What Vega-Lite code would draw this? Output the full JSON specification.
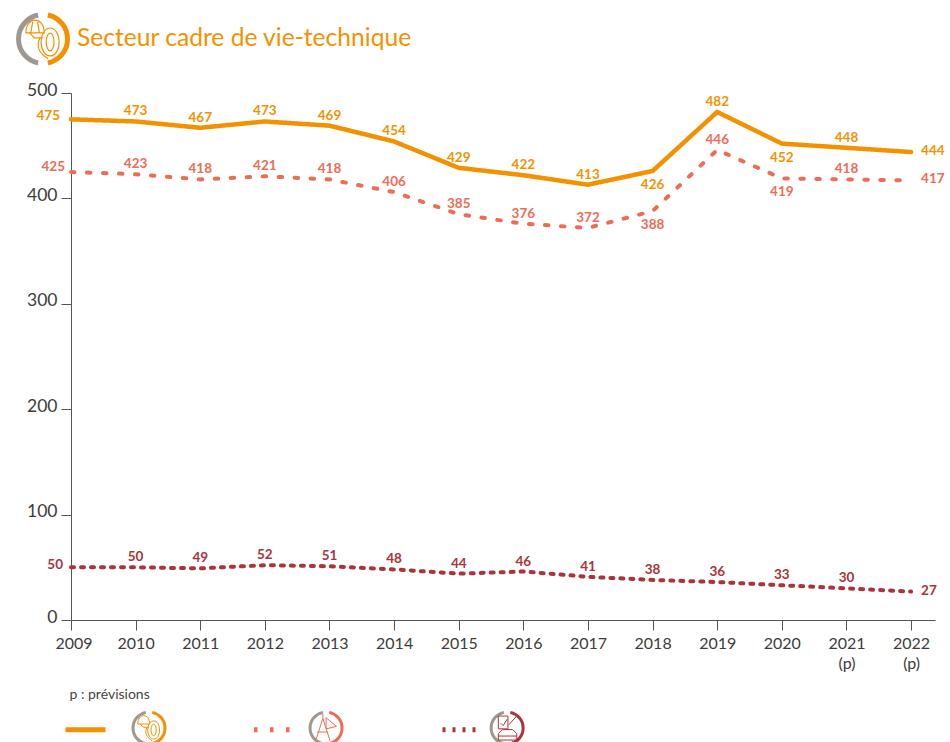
{
"$schema":"https://vega.github.io/schema/vega-lite/v6.json",
"autosize":"none",
"width":864,"height":527,
"padding":{"left":71,"top":93,"right":15,"bottom":122},
"background":"white",
"title":{"text":"Secteur cadre de vie-technique","anchor":"start","font":"Lato","fontSize":24.6,"fontWeight":400,"color":"#F39200","dx":6,"offset":-47,"frame":"group"},
"config":{"view":{"stroke":null},"axis":{"grid":false}},
"datasets":{"d":[
{"year":2009,"series":"chantier","value":475},{"year":2010,"series":"chantier","value":473},{"year":2011,"series":"chantier","value":467},{"year":2012,"series":"chantier","value":473},{"year":2013,"series":"chantier","value":469},{"year":2014,"series":"chantier","value":454},{"year":2015,"series":"chantier","value":429},{"year":2016,"series":"chantier","value":422},{"year":2017,"series":"chantier","value":413},{"year":2018,"series":"chantier","value":426},{"year":2019,"series":"chantier","value":482},{"year":2020,"series":"chantier","value":452},{"year":2021,"series":"chantier","value":448},{"year":2022,"series":"chantier","value":444},
{"year":2009,"series":"études","value":425},{"year":2010,"series":"études","value":423},{"year":2011,"series":"études","value":418},{"year":2012,"series":"études","value":421},{"year":2013,"series":"études","value":418},{"year":2014,"series":"études","value":406},{"year":2015,"series":"études","value":385},{"year":2016,"series":"études","value":376},{"year":2017,"series":"études","value":372},{"year":2018,"series":"études","value":388},{"year":2019,"series":"études","value":446},{"year":2020,"series":"études","value":419},{"year":2021,"series":"études","value":418},{"year":2022,"series":"études","value":417},
{"year":2009,"series":"véhicules","value":50},{"year":2010,"series":"véhicules","value":50},{"year":2011,"series":"véhicules","value":49},{"year":2012,"series":"véhicules","value":52},{"year":2013,"series":"véhicules","value":51},{"year":2014,"series":"véhicules","value":48},{"year":2015,"series":"véhicules","value":44},{"year":2016,"series":"véhicules","value":46},{"year":2017,"series":"véhicules","value":41},{"year":2018,"series":"véhicules","value":38},{"year":2019,"series":"véhicules","value":36},{"year":2020,"series":"véhicules","value":33},{"year":2021,"series":"véhicules","value":30},{"year":2022,"series":"véhicules","value":27}
],
"icons":[{"icon":"titre","ix":2008.567,"iy":551.2},{"icon":"chantier","ix":2010.207,"iy":-102.5},{"icon":"études","ix":2012.947,"iy":-102.5},{"icon":"véhicules","ix":2015.749,"iy":-102.5}]},
"data":{"name":"d"},
"encoding":{
"x":{"field":"year","type":"quantitative","scale":{"domain":[2009,2022.37],"nice":false,"zero":false},
 "axis":{"values":[2009,2010,2011,2012,2013,2014,2015,2016,2017,2018,2019,2020,2021,2022],"format":"d","labelExpr":"datum.value>=2021?[datum.label,'(p)']:datum.label","title":"p : prévisions","titleFont":"Lato","titleFontSize":14,"titleFontWeight":400,"titleColor":"#444444","titleAnchor":"start","titleAlign":"left","titleBaseline":"middle","titleX":-2,"titleY":74,"labelFont":"Lato","labelFontSize":16,"labelFontWeight":400,"labelColor":"#3c3c3c","labelPadding":5,"labelLineHeight":20,"labelFlush":true,"labelFlushOffset":16,"tickSize":10,"tickColor":"#555555","domainColor":"#555555","labelOverlap":false}},
"y":{"field":"value","type":"quantitative","scale":{"domain":[0,500],"nice":false},
 "axis":{"values":[0,100,200,300,400,500],"title":null,"labelFont":"Lato","labelFontSize":17.5,"labelFontWeight":400,"labelColor":"#3c3c3c","labelPadding":4,"labelOffset":-3,"tickSize":10,"tickColor":"#555555","domainColor":"#555555"}},
"color":{"field":"series","type":"nominal","scale":{"domain":["chantier","études","véhicules"],"range":["#F39200","#EE6C55","#A93439"]},"legend":null}
},
"layer":[
{"mark":{"type":"line","strokeCap":"round","strokeJoin":"miter"},
 "encoding":{
 "color":{"field":"series","type":"nominal","scale":{"domain":["chantier","études","véhicules"],"range":["#F39200","#EE6C55","#A93439"]},
 "legend":{"orient":"none","legendX":-8,"legendY":614,"direction":"horizontal","columns":3,"title":null,"symbolType":"stroke","symbolSize":1600,"symbolStrokeWidth":5,"labelExpr":"''","columnPadding":127.5,"padding":0}},
 "strokeDash":{"field":"series","type":"nominal","scale":{"domain":["chantier","études","véhicules"],"range":[[1,0],[3.5,12.5],[3,7]]},
 "legend":{"orient":"none","legendX":-8,"legendY":614,"direction":"horizontal","columns":3,"title":null,"symbolType":"stroke","symbolSize":1600,"symbolStrokeWidth":5,"labelExpr":"''","columnPadding":127.5,"padding":0}},
 "strokeWidth":{"condition":{"test":"datum.series==='chantier'","value":4.5},"value":4}
 }},
{"transform":[{"filter":"datum.year>2009&&datum.year<2022&&!((datum.year==2018||datum.year==2020)&&datum.series!=='véhicules')"}],
 "mark":{"type":"text","font":"Lato","fontSize":13.5,"fontWeight":700,"dy":-10},"encoding":{"text":{"field":"value","type":"quantitative"}}},
{"transform":[{"filter":"(datum.year==2018||datum.year==2020)&&datum.series!=='véhicules'"}],
 "mark":{"type":"text","font":"Lato","fontSize":13.5,"fontWeight":700,"dy":14},"encoding":{"text":{"field":"value","type":"quantitative"}}},
{"transform":[{"filter":"datum.year==2009&&datum.series==='chantier'"}],
 "mark":{"type":"text","font":"Lato","fontSize":13.5,"fontWeight":700,"align":"right","dx":-11,"dy":-3},"encoding":{"text":{"field":"value","type":"quantitative"}}},
{"transform":[{"filter":"datum.year==2009&&datum.series==='études'"}],
 "mark":{"type":"text","font":"Lato","fontSize":13.5,"fontWeight":700,"align":"right","dx":-6,"dy":-5},"encoding":{"text":{"field":"value","type":"quantitative"}}},
{"transform":[{"filter":"datum.year==2009&&datum.series==='véhicules'"}],
 "mark":{"type":"text","font":"Lato","fontSize":13.5,"fontWeight":700,"align":"right","dx":-8,"dy":-2},"encoding":{"text":{"field":"value","type":"quantitative"}}},
{"transform":[{"filter":"datum.year==2022"}],
 "mark":{"type":"text","font":"Lato","fontSize":13.5,"fontWeight":700,"align":"left","dx":10,"dy":-1},"encoding":{"text":{"field":"value","type":"quantitative"}}},

{"data":{"name":"icons"},"transform":[{"filter":"datum.icon==='titre'"}],"mark":{"type":"point","filled":false,"strokeWidth":5,"opacity":1,"size":2400,"shape":"M-0.2,-0.98C-0.65,-0.88,-1,-0.5,-1,0C-1,0.5,-0.65,0.88,-0.2,0.98"},"encoding":{"color":{"value":"#A09890"},"x":{"field":"ix","type":"quantitative"},"y":{"field":"iy","type":"quantitative"}}},
{"data":{"name":"icons"},"transform":[{"filter":"datum.icon==='titre'"}],"mark":{"type":"point","filled":false,"strokeWidth":5,"opacity":1,"size":2400,"shape":"M0.2,-0.98C0.65,-0.88,1,-0.5,1,0C1,0.5,0.65,0.88,0.2,0.98"},"encoding":{"color":{"value":"#F39200"},"x":{"field":"ix","type":"quantitative"},"y":{"field":"iy","type":"quantitative"}}},
{"data":{"name":"icons"},"transform":[{"filter":"datum.icon==='titre'"}],"mark":{"type":"point","filled":false,"strokeWidth":1.2,"opacity":1,"size":2400,"shape":"M0.29,-0.45C0.5,-0.45,0.66,-0.2,0.66,0.12C0.66,0.44,0.5,0.69,0.29,0.69C0.08,0.69,-0.08,0.44,-0.08,0.12C-0.08,-0.2,0.08,-0.45,0.29,-0.45ZM0.29,-0.24C0.38,-0.24,0.45,-0.08,0.45,0.12C0.45,0.32,0.38,0.48,0.29,0.48C0.2,0.48,0.13,0.32,0.13,0.12C0.13,-0.08,0.2,-0.24,0.29,-0.24ZM-0.7,-0.25C-0.7,-0.95,0.05,-0.95,0.05,-0.25ZM-0.5,-0.25L-0.42,-0.7M-0.15,-0.25L-0.22,-0.7M-0.55,-0.25L-0.35,-0.05L0,-0.05M-0.12,-0.05C-0.3,0.3,-0.15,0.6,0.2,0.8"},"encoding":{"color":{"value":"#F39200"},"x":{"field":"ix","type":"quantitative"},"y":{"field":"iy","type":"quantitative"}}},

{"data":{"name":"icons"},"transform":[{"filter":"datum.icon!=='titre'"}],"mark":{"type":"point","filled":false,"strokeWidth":3,"opacity":1,"size":1024,"shape":"M-0.2,-0.98C-0.65,-0.88,-1,-0.5,-1,0C-1,0.5,-0.65,0.88,-0.2,0.98"},"encoding":{"color":{"value":"#A09890"},"x":{"field":"ix","type":"quantitative"},"y":{"field":"iy","type":"quantitative"}}},
{"data":{"name":"icons"},"transform":[{"filter":"datum.icon==='chantier'"}],"mark":{"type":"point","filled":false,"strokeWidth":3,"opacity":1,"size":1024,"shape":"M0.2,-0.98C0.65,-0.88,1,-0.5,1,0C1,0.5,0.65,0.88,0.2,0.98"},"encoding":{"color":{"value":"#F39200"},"x":{"field":"ix","type":"quantitative"},"y":{"field":"iy","type":"quantitative"}}},
{"data":{"name":"icons"},"transform":[{"filter":"datum.icon==='chantier'"}],"mark":{"type":"point","filled":false,"strokeWidth":1,"opacity":1,"size":1024,"shape":"M0.29,-0.45C0.5,-0.45,0.66,-0.2,0.66,0.12C0.66,0.44,0.5,0.69,0.29,0.69C0.08,0.69,-0.08,0.44,-0.08,0.12C-0.08,-0.2,0.08,-0.45,0.29,-0.45ZM0.29,-0.24C0.38,-0.24,0.45,-0.08,0.45,0.12C0.45,0.32,0.38,0.48,0.29,0.48C0.2,0.48,0.13,0.32,0.13,0.12C0.13,-0.08,0.2,-0.24,0.29,-0.24ZM-0.7,-0.25C-0.7,-0.95,0.05,-0.95,0.05,-0.25ZM-0.55,-0.25L-0.35,-0.05L0,-0.05M-0.12,-0.05C-0.3,0.3,-0.15,0.6,0.2,0.8"},"encoding":{"color":{"value":"#F39200"},"x":{"field":"ix","type":"quantitative"},"y":{"field":"iy","type":"quantitative"}}},
{"data":{"name":"icons"},"transform":[{"filter":"datum.icon==='études'"}],"mark":{"type":"point","filled":false,"strokeWidth":3,"opacity":1,"size":1024,"shape":"M0.2,-0.98C0.65,-0.88,1,-0.5,1,0C1,0.5,0.65,0.88,0.2,0.98"},"encoding":{"color":{"value":"#EE6C55"},"x":{"field":"ix","type":"quantitative"},"y":{"field":"iy","type":"quantitative"}}},
{"data":{"name":"icons"},"transform":[{"filter":"datum.icon==='études'"}],"mark":{"type":"point","filled":false,"strokeWidth":1,"opacity":1,"size":1024,"shape":"M-0.2,-0.9L-0.2,-0.6M-0.2,-0.6L-0.65,0.8M-0.2,-0.6L0.25,0.8M-0.55,0.25L0.1,0.25M0,-0.65L0.65,-0.1L0,0.05Z"},"encoding":{"color":{"value":"#EE6C55"},"x":{"field":"ix","type":"quantitative"},"y":{"field":"iy","type":"quantitative"}}},
{"data":{"name":"icons"},"transform":[{"filter":"datum.icon==='véhicules'"}],"mark":{"type":"point","filled":false,"strokeWidth":3,"opacity":1,"size":1024,"shape":"M0.2,-0.98C0.65,-0.88,1,-0.5,1,0C1,0.5,0.65,0.88,0.2,0.98"},"encoding":{"color":{"value":"#A93439"},"x":{"field":"ix","type":"quantitative"},"y":{"field":"iy","type":"quantitative"}}},
{"data":{"name":"icons"},"transform":[{"filter":"datum.icon==='véhicules'"}],"mark":{"type":"point","filled":false,"strokeWidth":1,"opacity":1,"size":1024,"shape":"M-0.55,-0.75L0.05,-0.75L0.05,0.05L-0.55,0.05ZM-0.4,-0.3L-0.25,-0.15L0,-0.55M0.1,-0.2L0.6,-0.75M-0.55,0.75L-0.55,0.35L-0.3,0.1L0.35,0.1L0.6,0.35L0.6,0.75ZM-0.55,0.5L0.6,0.5"},"encoding":{"color":{"value":"#A93439"},"x":{"field":"ix","type":"quantitative"},"y":{"field":"iy","type":"quantitative"}}}
]
}
